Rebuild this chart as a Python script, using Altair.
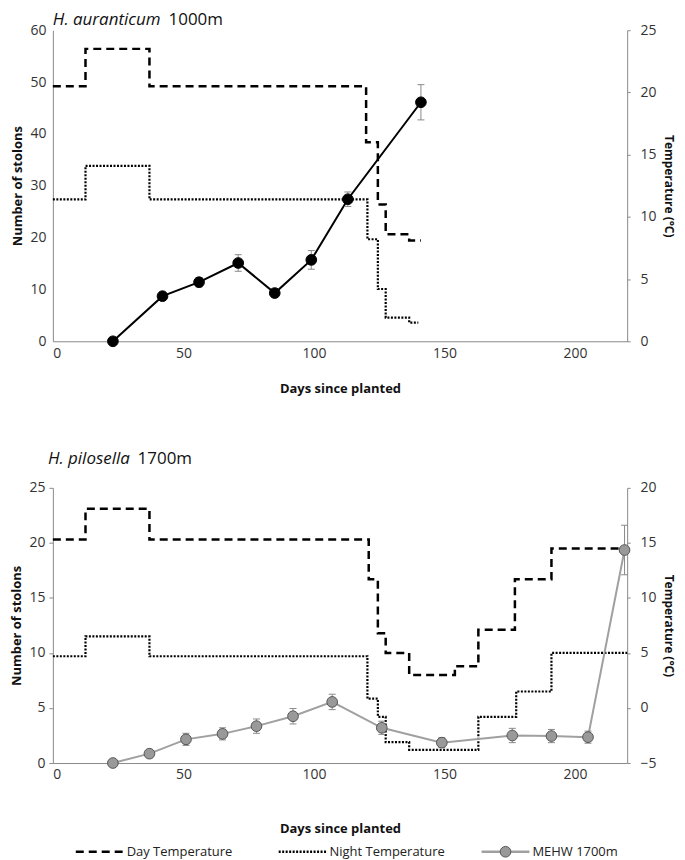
import altair as alt
import pandas as pd

# ---------------- data ----------------
# H. auranticum 1000m
top_days = [23, 42, 56, 71, 85, 99, 113, 141]
top_stolons = [0, 8.7, 11.4, 15.1, 9.3, 15.7, 27.4, 46.1]
top_se = [0, 0.8, 0.9, 1.6, 0.8, 1.8, 1.4, 3.4]

top_day_t_days = [0, 12.5, 37, 120, 124.5, 127.5, 136.5, 141]
top_day_t = [20.5, 23.5, 20.5, 16.0, 11.0, 8.6, 8.1, 8.1]
top_night_t_days = [0, 12.5, 37, 120.5, 124.5, 127.5, 136.5, 140]
top_night_t = [11.4, 14.1, 11.4, 8.2, 4.2, 1.9, 1.5, 1.5]

# H. pilosella 1700m (MEHW 1700m)
bot_days = [23, 37, 51, 65, 78, 92, 107, 126, 149, 176, 191, 205, 219]
bot_stolons = [0, 0.85, 2.15, 2.65, 3.35, 4.25, 5.55, 3.2, 1.85, 2.5, 2.45, 2.35, 19.35]
bot_se = [0, 0.3, 0.55, 0.55, 0.65, 0.7, 0.7, 0.6, 0.45, 0.65, 0.6, 0.55, 2.25]

bot_day_t_days = [0, 12.5, 37, 121, 124.5, 127.5, 136.5, 154, 163, 177, 191, 220]
bot_day_t = [15.3, 18.1, 15.3, 11.7, 6.8, 5.0, 3.0, 3.8, 7.1, 11.7, 14.5, 14.5]
bot_night_t_days = [0, 12.5, 37, 120.5, 124.5, 127.5, 136.5, 163, 177.5, 191, 220]
bot_night_t = [4.7, 6.5, 4.7, 0.85, -0.8, -3.1, -3.8, -0.8, 1.5, 5.0, 5.0]

series_names = ["Day Temperature", "Night Temperature", "MEHW 1700m"]
x_ticks = [0, 50, 100, 150, 200]

FONT = "Open Sans"
W = 576
DAY_DASH = [8, 5]
NIGHT_DASH = [2, 1.5]

series_color = alt.Scale(domain=series_names, range=["black", "black", "#a0a0a0"])
series_dash = alt.Scale(domain=series_names, range=[DAY_DASH, NIGHT_DASH, [1, 0]])


def stolon_df(days, vals, se):
    return pd.DataFrame({
        "day": days, "n": vals,
        "lo": [v - s for v, s in zip(vals, se)],
        "hi": [v + s for v, s in zip(vals, se)],
    })


def temp_df(days, vals):
    return pd.DataFrame({"day": days, "temp": vals})


def panel(days, vals, se, dday, dt, nday, nt, ydom, yvals, tdom, tvals,
          height, genus, alt_txt, title_y, genus_x, alt_x, xtitle_pad, left_ticks,
          line_col, pt_fill, pt_stroke):
    xenc = alt.X("day:Q", scale=alt.Scale(domain=[0, 220], nice=False),
                 axis=alt.Axis(values=x_ticks, title="Days since planted",
                               ticks=False, labelPadding=5, titlePadding=xtitle_pad,
                               titleFontSize=13))
    tax = alt.Axis(orient="right", values=tvals, title="Temperature (°C)",
                   tickSize=3, labelPadding=10, titlePadding=5, titleFontSize=12)
    ty = alt.Y("temp:Q", scale=alt.Scale(domain=tdom, nice=False), axis=tax)
    day_l = alt.Chart(temp_df(dday, dt)).mark_line(
        interpolate="step-after", strokeWidth=2.5, color="black",
        strokeDash=DAY_DASH).encode(x=xenc, y=ty)
    night_l = alt.Chart(temp_df(nday, nt)).mark_line(
        interpolate="step-after", strokeWidth=2.2, color="black",
        strokeDash=NIGHT_DASH).encode(x=xenc, y=ty)
    temps = alt.layer(day_l, night_l)

    sax = alt.Axis(orient="left", values=yvals, title="Number of stolons",
                   tickSize=4 if left_ticks else 0,
                   labelPadding=4 if left_ticks else 7, titlePadding=5,
                   titleFontSize=13)
    ysc = alt.Scale(domain=ydom, nice=False)
    sy = alt.Y("n:Q", scale=ysc, axis=sax)
    base = alt.Chart(stolon_df(days, vals, se))
    line = base.mark_line(strokeWidth=2, color=line_col).encode(x=xenc, y=sy)
    err = base.mark_rule(color="#8a8a8a", strokeWidth=1).encode(
        x=xenc, y=alt.Y("lo:Q", scale=ysc, axis=sax), y2="hi:Q")
    cap_lo = base.mark_point(shape="stroke", size=49, color="#8a8a8a",
                             strokeWidth=1, opacity=1).encode(
        x=xenc, y=alt.Y("lo:Q", scale=ysc, axis=sax))
    cap_hi = base.mark_point(shape="stroke", size=49, color="#8a8a8a",
                             strokeWidth=1, opacity=1).encode(
        x=xenc, y=alt.Y("hi:Q", scale=ysc, axis=sax))
    pts = base.mark_point(filled=True, size=115, fill=pt_fill, stroke=pt_stroke,
                          strokeWidth=1, opacity=1).encode(x=xenc, y=sy)

    t1 = alt.Chart(pd.DataFrame({"t": [genus]})).mark_text(
        font=FONT, fontSize=17, fontStyle="italic", align="left", baseline="middle",
        color="#111").encode(text="t:N", x=alt.value(genus_x), y=alt.value(title_y))
    t2 = alt.Chart(pd.DataFrame({"t": [alt_txt]})).mark_text(
        font=FONT, fontSize=17, align="left", baseline="middle",
        color="#111").encode(text="t:N", x=alt.value(alt_x), y=alt.value(title_y))

    stol = alt.layer(line, err, cap_lo, cap_hi, pts, t1, t2)
    return alt.layer(temps, stol).resolve_scale(y="independent").properties(
        width=W, height=height)


top = panel(top_days, top_stolons, top_se, top_day_t_days, top_day_t,
            top_night_t_days, top_night_t, [0, 60], [0, 10, 20, 30, 40, 50, 60],
            [0, 25], [0, 5, 10, 15, 20, 25], 312, "H. auranticum", "1000m", -10, 0, 116,
            22, False, "black", "black", "black")
bottom = panel(bot_days, bot_stolons, bot_se, bot_day_t_days, bot_day_t,
               bot_night_t_days, bot_night_t, [0, 25], [0, 5, 10, 15, 20, 25],
               [-5, 20], [-5, 0, 5, 10, 15, 20], 276, "H. pilosella", "1700m", -29, -5,
               85, 41, True, "#a0a0a0", "#999999", "#555555")

# ---------------- legend (built from the series names) ----------------
leg = alt.Chart(pd.DataFrame({"series": series_names}))
lx = alt.X("series:N", scale=alt.Scale(type="point", domain=series_names,
                                       range=[47, 454], padding=0), axis=None)
leg_sym = leg.mark_point(shape="stroke", size=2304, strokeWidth=2.3, opacity=1).encode(
    x=lx, y=alt.value(6),
    stroke=alt.Color("series:N", scale=series_color, legend=None),
    strokeDash=alt.StrokeDash("series:N", scale=series_dash, legend=None))
leg_dot = leg.transform_filter(alt.datum.series == "MEHW 1700m").mark_point(
    filled=True, size=115, fill="#999999", stroke="#555555", strokeWidth=1,
    opacity=1).encode(x=lx, y=alt.value(6))
leg_txt = leg.mark_text(font=FONT, fontSize=13, align="left", baseline="middle",
                        dx=27, color="#222").encode(x=lx, y=alt.value(6), text="series:N")
legend_chart = alt.layer(leg_sym, leg_dot, leg_txt).properties(width=W, height=12)

chart = alt.vconcat(
    top, alt.vconcat(bottom, legend_chart, spacing=8), spacing=55
).properties(
    padding={"left": 2, "top": 2, "right": 2, "bottom": 0}
).configure_view(stroke=None).configure_axis(
    grid=False, domainColor="#8a8a8a", domainWidth=1, tickColor="#8a8a8a",
    labelColor="#333", labelFont=FONT, labelFontSize=14,
    titleFont=FONT, titleFontWeight="bold", titleColor="#111",
)

chart.save("out.html", embed_options={"renderer": "svg", "actions": False})
